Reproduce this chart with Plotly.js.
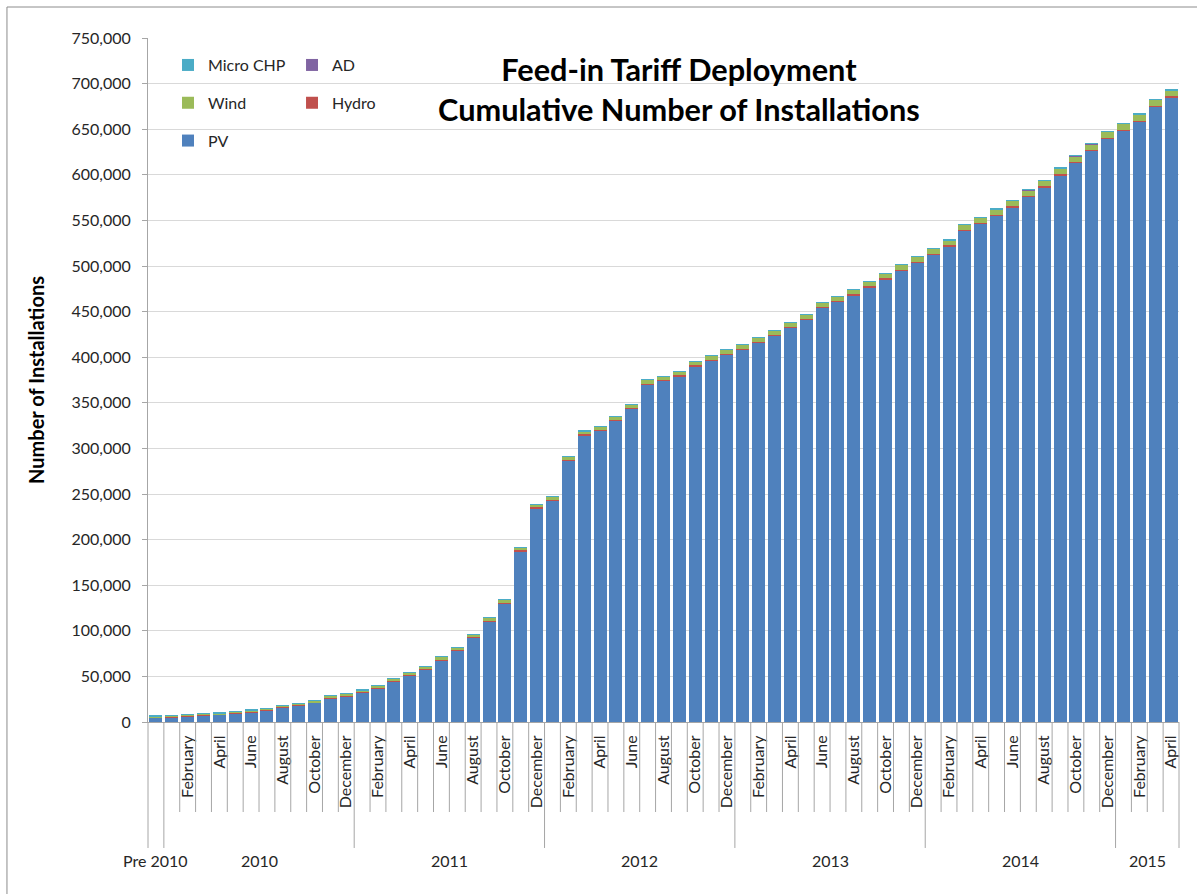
<!DOCTYPE html>
<html>
<head>
<meta charset="utf-8">
<script src="https://cdn.plot.ly/plotly-3.0.1.min.js"></script>
<style>
html,body{margin:0;padding:0;background:#ffffff;}
#chart{width:1197px;height:894px;}
</style>
</head>
<body>
<div id="chart"></div>
<script>
// ---- categories / labels ----
const preLabel = 'Pre 2010';
const yearList = ['2010', '2011', '2012', '2013', '2014', '2015'];
const monthsInYear = [12, 12, 12, 12, 12, 4];
const monthNames = ['January', 'February', 'March', 'April', 'May', 'June',
  'July', 'August', 'September', 'October', 'November', 'December'];
const yearLabels = ['Pre 2010', '2010', '2011', '2012', '2013', '2014', '2015'];

// ---- series values (cumulative number of installations) ----
const pv = [5000, 5330, 6210, 7200, 7870, 9550, 10910, 12860, 16020, 18090, 21240, 25790, 28360,
  31840, 36810, 43980, 50850, 57640, 67720, 78210, 92310, 110510, 130110, 187430, 234560,
  243180, 286900, 314610, 319610, 330500, 343490, 370370, 373960, 379360, 390150, 396650, 403170,
  408580, 415770, 423670, 432360, 441060, 454050, 460560, 468160, 476760, 485470, 495280, 503900,
  512600, 521790, 538690, 546280, 555280, 564670, 576260, 586360, 599750, 613250, 626350, 639660,
  648370, 658460, 674460, 684960];
const hydro = [450, 460, 480, 500, 505, 520, 530, 540, 548, 556, 565, 575, 585,
  596, 604, 612, 620, 628, 637, 645, 652, 660, 668, 676, 684,
  690, 697, 705, 712, 720, 728, 735, 743, 750, 758, 765, 772,
  780, 788, 795, 803, 810, 818, 825, 833, 840, 848, 855, 862,
  870, 877, 885, 892, 900, 907, 915, 922, 930, 937, 945, 952,
  960, 967, 975, 982];
const wind = [1100, 1150, 1230, 1310, 1420, 1510, 1620, 1740, 1860, 1970, 2100, 2230, 2340,
  2430, 2540, 2650, 2760, 2860, 2960, 3050, 3130, 3210, 3290, 3350, 3410,
  3470, 3540, 3610, 3690, 3780, 3880, 3980, 4070, 4160, 4250, 4330, 4400,
  4470, 4560, 4650, 4740, 4830, 4920, 5000, 5080, 5160, 5240, 5310, 5380,
  5460, 5550, 5640, 5730, 5820, 5910, 6000, 6090, 6180, 6270, 6350, 6420,
  6500, 6590, 6680, 6760];
const ad = [10, 12, 15, 18, 20, 22, 25, 27, 30, 32, 35, 38, 40,
  42, 45, 48, 50, 52, 55, 58, 60, 63, 66, 70, 73,
  76, 80, 83, 86, 90, 93, 96, 100, 103, 106, 110, 112,
  115, 118, 120, 123, 126, 128, 130, 133, 135, 138, 140, 142,
  145, 147, 150, 152, 155, 157, 160, 162, 165, 167, 170, 172,
  175, 178, 180, 183];
const microChp = [40, 45, 60, 70, 85, 100, 115, 130, 140, 150, 160, 170, 180,
  190, 200, 210, 218, 225, 232, 240, 248, 255, 262, 270, 276,
  282, 288, 295, 300, 306, 312, 318, 324, 330, 336, 342, 348,
  354, 360, 366, 372, 378, 384, 390, 396, 402, 408, 414, 420,
  426, 432, 438, 444, 450, 456, 462, 468, 474, 480, 486, 492,
  498, 504, 510, 516];

// ---- build category list and label helpers ----
const categories = [preLabel];
const tickVals = [], tickText = [];
const yearRanges = [[0, 0]];
yearList.forEach(function (yr, yi) {
  const start = categories.length;
  for (let m = 0; m < monthsInYear[yi]; m++) {
    const cat = monthNames[m] + ' ' + yr;
    categories.push(cat);
    if (m % 2 === 1) { tickVals.push(cat); tickText.push(monthNames[m]); }
  }
  yearRanges.push([start, categories.length - 1]);
});

const colors = {pv: '#4f81bd', hydro: '#c0504d', wind: '#9bbb59', ad: '#8064a2', chp: '#4bacc6'};
function barTrace(name, vals, color, legendId, group, rank) {
  return {
    type: 'bar', name: name, x: categories, y: vals,
    marker: {color: color, line: {width: 0}},
    legend: legendId, legendgroup: group, legendrank: rank,
    hovertemplate: '%{x}<br>' + name + ': %{y:,}<extra></extra>'
  };
}
const data = [
  barTrace('PV', pv, colors.pv, 'legend', 'g1', 3),
  barTrace('Hydro', hydro, colors.hydro, 'legend2', 'g2', 2),
  barTrace('Wind', wind, colors.wind, 'legend', 'g3', 2),
  barTrace('AD', ad, colors.ad, 'legend2', 'g4', 1),
  barTrace('Micro CHP', microChp, colors.chp, 'legend', 'g5', 1)
];

// ---- axis dividers (category boundaries) and year labels ----
const shapes = [];
const yearBoundaries = yearRanges.slice(0, -1).map(r => r[1] + 0.5);
for (let i = 0; i < categories.length - 1; i++) {
  const b = i + 0.5;
  const isYear = yearBoundaries.indexOf(b) >= 0;
  shapes.push({type: 'line', xref: 'x', yref: 'paper', x0: b, x1: b, y0: 0,
    y1: isYear ? -0.1842 : -0.1316, line: {color: '#a6a6a6', width: 1}});
}
[0, 1].forEach(function (px) {
  shapes.push({type: 'line', xref: 'paper', yref: 'paper', x0: px, x1: px, y0: 0, y1: -0.1842,
    line: {color: '#a6a6a6', width: 1}});
});
// outer chart border
shapes.push({type: 'rect', xref: 'paper', yref: 'paper', x0: -0.1368, x1: 1.03, y0: 1.0453, y1: -0.26,
  line: {color: '#8c8c8c', width: 1}, fillcolor: 'rgba(0,0,0,0)'});

const annotations = yearLabels.map(function (lab, i) {
  const r = yearRanges[i];
  return {xref: 'x', yref: 'paper', x: (r[0] + r[1]) / 2, y: -0.2018, text: lab,
    showarrow: false, xanchor: 'center', yanchor: 'middle',
    font: {family: 'Lato, sans-serif', size: 16, color: '#262626'}};
});

const font = 'Lato, "Liberation Sans", sans-serif';
const layout = {
  width: 1197, height: 894,
  paper_bgcolor: '#ffffff', plot_bgcolor: '#ffffff',
  margin: {l: 148, r: 18, t: 38, b: 172, pad: 0},
  barmode: 'stack', bargap: 0.18,
  font: {family: font, size: 16, color: '#262626'},
  title: {
    text: 'Feed-in Tariff Deployment<br>Cumulative Number of Installations',
    x: 0.5672, xanchor: 'center', xref: 'container',
    y: 0.909, yanchor: 'top', yref: 'container',
    font: {family: font, size: 30.7, weight: 'bold', color: '#000000'}
  },
  xaxis: {
    type: 'category', range: [-0.5, categories.length - 0.5],
    tickvals: tickVals, ticktext: tickText, tickangle: -90,
    ticks: 'outside', ticklen: 6, tickcolor: 'rgba(0,0,0,0)',
    tickfont: {family: font, size: 16, color: '#262626'},
    showline: true, linecolor: '#a6a6a6', linewidth: 1,
    showgrid: false, zeroline: false, automargin: false, fixedrange: true
  },
  yaxis: {
    range: [0, 750000], dtick: 50000, tickformat: ',d',
    showgrid: true, gridcolor: '#d9d9d9', gridwidth: 1,
    showline: true, linecolor: '#a6a6a6', linewidth: 1,
    ticks: 'outside', ticklen: 5, tickcolor: '#a6a6a6', ticklabelstandoff: 8,
    tickfont: {family: font, size: 16, color: '#262626'},
    zeroline: false, automargin: false, fixedrange: true,
    title: {text: 'Number of Installations', standoff: 21,
      font: {family: font, size: 20, weight: 'bold', color: '#000000'}}
  },
  legend: {
    x: 0.0194, y: 0.9853, xanchor: 'left', yanchor: 'top',
    orientation: 'v', traceorder: 'grouped', tracegroupgap: 14,
    bgcolor: 'rgba(0,0,0,0)', borderwidth: 0,
    font: {family: font, size: 16, color: '#262626'}
  },
  legend2: {
    x: 0.1397, y: 0.9853, xanchor: 'left', yanchor: 'top',
    orientation: 'v', traceorder: 'grouped', tracegroupgap: 14,
    bgcolor: 'rgba(0,0,0,0)', borderwidth: 0,
    font: {family: font, size: 16, color: '#262626'}
  },
  shapes: shapes,
  annotations: annotations
};

Plotly.newPlot('chart', data, layout, {displayModeBar: false});
</script>
</body>
</html>
